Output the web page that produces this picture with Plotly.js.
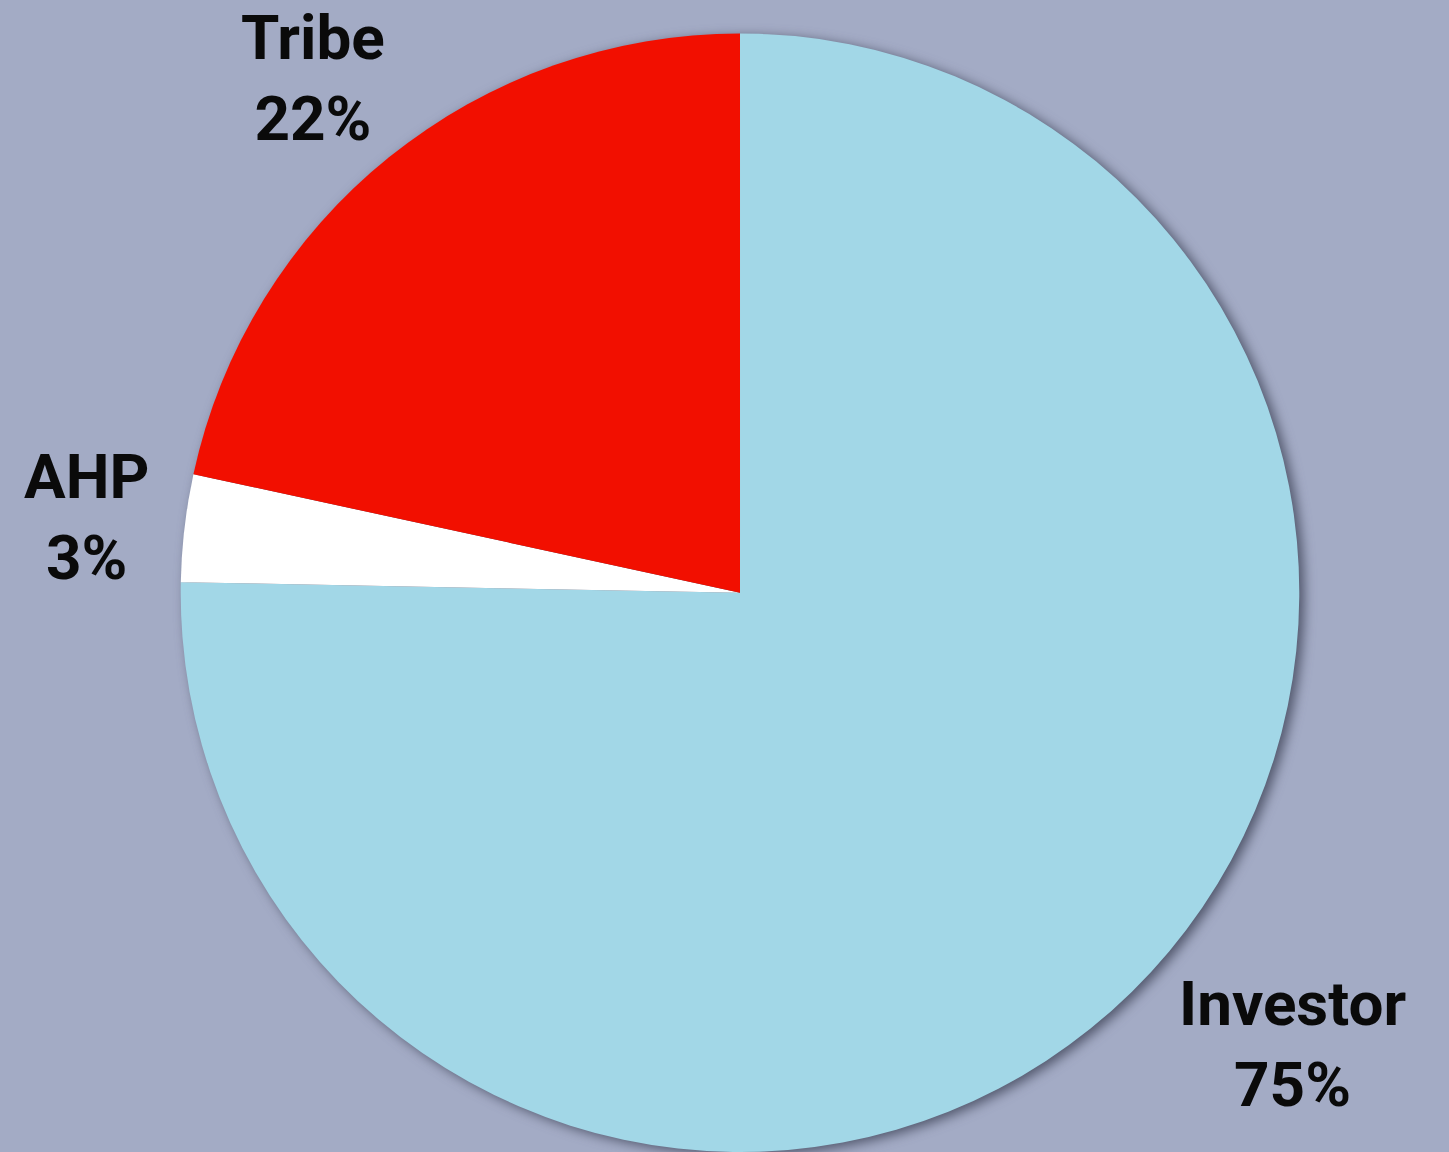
<!DOCTYPE html>
<html>
<head>
<meta charset="utf-8">
<script src="https://cdn.plot.ly/plotly-3.0.1.min.js"></script>
<style>
html,body{margin:0;padding:0;background:#a3abc5;}
#chart{width:1449px;height:1152px;}
.pielayer{filter:drop-shadow(5px 3px 6px rgba(60,65,85,0.8));}
</style>
</head>
<body>
<div id="chart"></div>
<script>
const labels = ["Investor", "AHP", "Tribe"];
const values = [75.3, 3.1, 21.6];
const colors = ["#a2d7e7", "#ffffff", "#f20f00"];

// label anchor positions (paper coords), style only
const labelPos = [[0.892, 0.094], [0.060, 0.551], [0.216, 0.932]];

const annotations = labels.map((l, i) => ({
  text: l + "<br>" + Math.round(values[i]) + "%",
  x: labelPos[i][0], y: labelPos[i][1],
  xref: "paper", yref: "paper",
  xanchor: "center", yanchor: "middle",
  showarrow: false,
  font: {family: "'Liberation Sans Narrow', 'Roboto', sans-serif", size: 62, color: "#0a0a0a", weight: "bold"}
}));

Plotly.newPlot("chart", [{
  type: "pie",
  labels: labels,
  values: values,
  sort: false,
  direction: "clockwise",
  rotation: 0,
  textinfo: "none",
  hoverinfo: "label+percent",
  marker: {colors: colors, line: {width: 0}},
  domain: {x: [0.1235, 0.8979], y: [0, 0.971]},
  showlegend: false
}], {
  width: 1449, height: 1152,
  margin: {l: 0, r: 0, t: 0, b: 0},
  paper_bgcolor: "#a3abc5",
  plot_bgcolor: "#a3abc5",
  annotations: annotations
}, {displayModeBar: false, staticPlot: true});
</script>
</body>
</html>
